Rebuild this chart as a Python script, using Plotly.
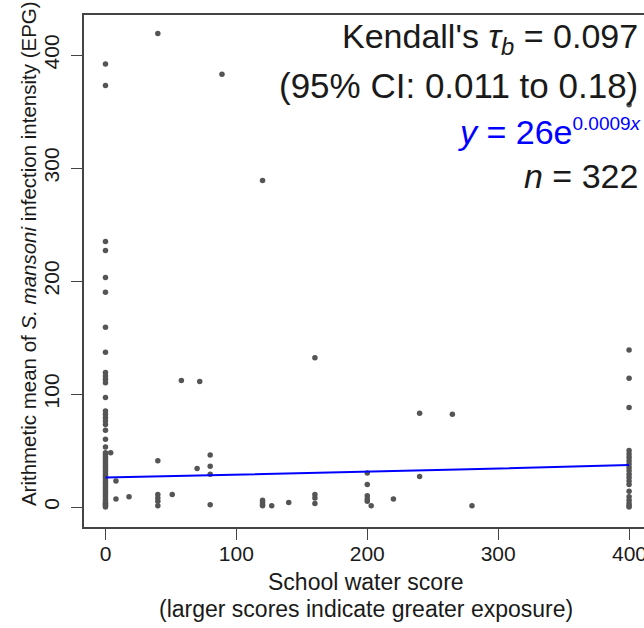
import numpy as np
import plotly.graph_objects as go

# ---- data ----
score_0 = [392, 373, 235, 227, 203, 190, 159, 137, 119, 116, 113, 110, 97, 85, 82, 79, 76,
           73, 68, 60, 53, 48, 46, 44, 42, 40, 38, 36, 34, 32, 30, 28, 26, 24, 22, 20, 18,
           16, 14, 12, 10, 8, 6, 4, 3, 2, 1, 0]
other_x = [4, 8, 8, 18, 40, 40, 40, 40, 40, 40, 51, 58, 70, 72, 80, 80, 80, 80, 89,
           120, 120, 120, 120, 120, 127, 140, 160, 160, 160, 160,
           200, 200, 200, 200, 200, 203, 220, 240, 240, 265, 280]
other_y = [48, 23, 7, 9, 419, 41, 11, 8, 5, 1, 11, 112, 34, 111, 46, 36, 29, 2, 383,
           289, 6, 4, 2, 1, 1, 4, 132, 11, 8, 3,
           30, 20, 10, 7, 5, 1, 7, 83, 27, 82, 1]
score_400 = [356, 139, 114, 88, 50, 47, 44, 41, 38, 35, 32, 29, 26, 23, 20, 14, 9, 6, 3, 1, 0]

fit_a = 26
fit_b = 0.0009
x_ticks = [0, 100, 200, 300, 400]
x_tick_labels = ["0", "100", "200", "300", "400"]
y_ticks = [0, 100, 200, 300, 400]

xs = [0] * len(score_0) + other_x + [400] * len(score_400)
ys = score_0 + other_y + score_400

fit_x = np.linspace(0, 400, 50)
fit_y = fit_a * np.exp(fit_b * fit_x)

FONT = "Liberation Sans, Arial, sans-serif"
AX = "#444444"
TXT = "#1a1a1a"

fig = go.Figure()
fig.add_trace(go.Scatter(x=xs, y=ys, mode="markers",
                         marker=dict(color="#555555", size=5.5, line=dict(width=0)),
                         showlegend=False, hoverinfo="skip"))
fig.add_trace(go.Scatter(x=fit_x, y=fit_y, mode="lines",
                         line=dict(color="#0000ff", width=2),
                         showlegend=False, hoverinfo="skip"))

ax_common = dict(showgrid=False, zeroline=False, showline=True, linecolor=AX, linewidth=1.5,
                 ticks="outside", ticklen=11, tickwidth=1.3, tickcolor=AX, automargin=False,
                 tickfont=dict(family=FONT, size=21, color=TXT))
fig.update_xaxes(range=[-16.4, 411.4], tickvals=x_ticks, ticktext=x_tick_labels[:-1] + [""],
                 mirror=True, ticklabelstandoff=-4, **ax_common)
fig.update_yaxes(range=[-17.7, 435.4], tickvals=y_ticks, tickangle=-90, mirror=False,
                 ticklabelstandoff=4, **ax_common)

ann = []
def A(text, x, y, size, color=TXT, xanchor="right", angle=0, xref="paper"):
    ann.append(dict(text=text, x=x, y=y, xref=xref, yref="paper", showarrow=False,
                    xanchor=xanchor, yanchor="middle", textangle=angle,
                    font=dict(family=FONT, size=size, color=color)))

# last x tick label drawn as annotation so it may run past the page edge like the reference
A(x_tick_labels[-1], x_ticks[-1], -0.051, 21, xanchor="center", xref="x")

A("Kendall's <i>τ<sub>b</sub></i> = 0.097", 0.993, 0.955, 34)
A("(95% CI: 0.011 to 0.18)", 0.993, 0.862, 35)
A("<i>y</i> = 26e<sup><span style='font-size:19px'>0.0009<i>x</i></span></sup>",
  1.0, 0.771, 34, color="#0000ff")
A("<i>n</i> = 322", 0.993, 0.686, 34)
A("School water score", 0.504, -0.107, 23, xanchor="center")
A("(larger scores indicate greater exposure)", 0.504, -0.16, 23, xanchor="center")
A("Arithmetic mean of <i>S. mansoni</i> infection intensity (EPG)", -0.1, 0.533, 20.5,
  xanchor="center", angle=-90)

fig.update_layout(template="none", width=644, height=628,
                  margin=dict(l=84, r=0, t=15, b=101, pad=0),
                  plot_bgcolor="white", paper_bgcolor="white", annotations=ann)
fig.write_html("out.html")
